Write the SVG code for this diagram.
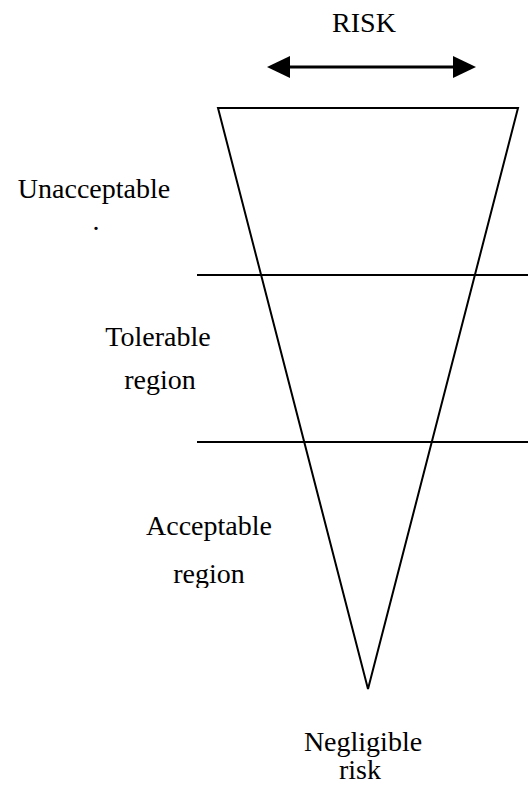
<svg xmlns="http://www.w3.org/2000/svg" width="528" height="786" viewBox="0 0 528 786">
  <style>
    .lbl { font-family: "Liberation Serif", "Times New Roman", serif; font-size: 28px; fill: #000; text-anchor: middle; }
    .ln { stroke: #000; stroke-width: 2; fill: none; }
  </style>
  <defs>
    <clipPath id="clipAcc">
      <rect x="0" y="450" width="528" height="138"/>
    </clipPath>
  </defs>
  <rect width="528" height="786" fill="#fff"/>

  <!-- risk width indicator -->
  <g id="risk-label">
    <text class="lbl" x="364" y="32">RISK</text>
  </g>
  <g id="connectors">
    <line x1="287" y1="67" x2="455" y2="67" stroke="#000" stroke-width="3"/>
    <polygon points="267,67 290,56 290,78" fill="#000"/>
    <polygon points="476,67 453,56 453,78" fill="#000"/>
    <!-- region boundaries -->
    <line class="ln" x1="197" y1="275" x2="528" y2="275"/>
    <line class="ln" x1="197" y1="442" x2="528" y2="442"/>
  </g>

  <!-- risk funnel -->
  <g id="funnel">
    <polygon class="ln" points="218,108 518,108 368,689" stroke-linejoin="miter"/>
  </g>

  <g id="unacceptable">
    <text class="lbl" x="94" y="198">Unacceptable</text>
    <text class="lbl" x="96" y="230">.</text>
  </g>
  <g id="tolerable">
    <text class="lbl" x="158" y="346">Tolerable</text>
    <text class="lbl" x="160" y="389">region</text>
  </g>
  <g id="acceptable" clip-path="url(#clipAcc)">
    <text class="lbl" x="209" y="535">Acceptable</text>
    <text class="lbl" x="209" y="583">region</text>
  </g>
  <g id="negligible">
    <text class="lbl" x="363" y="751">Negligible</text>
    <text class="lbl" x="360" y="779">risk</text>
  </g>
</svg>
